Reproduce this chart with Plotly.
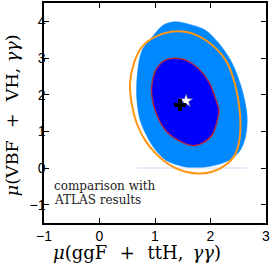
import plotly.graph_objects as go

# 2-sigma (light blue) region contour
outer_x = [1.15, 1.36, 1.54, 1.91, 2.15, 2.39, 2.57, 2.66, 2.63, 2.54, 2.39, 2.15, 1.91, 1.55, 1.31, 1.19, 1.01, 0.86, 0.73, 0.67, 0.69, 0.77, 0.98, 1.15]
outer_y = [3.90, 3.99, 3.95, 3.76, 3.40, 2.86, 2.13, 1.40, 0.85, 0.49, 0.26, 0.10, 0.03, 0.03, 0.13, 0.22, 0.49, 0.85, 1.31, 1.94, 2.67, 3.22, 3.63, 3.90]

# 1-sigma (dark blue) region contour
inner_x = [1.33, 1.54, 1.78, 1.97, 2.09, 2.15, 2.12, 2.03, 1.85, 1.69, 1.49, 1.21, 1.03, 0.94, 0.95, 1.03, 1.16, 1.33]
inner_y = [2.99, 2.95, 2.72, 2.35, 1.90, 1.58, 1.28, 0.90, 0.67, 0.61, 0.70, 0.99, 1.45, 1.99, 2.35, 2.72, 2.92, 2.99]

# ATLAS comparison contour (orange)
atlas_x = [0.55, 0.62, 0.77, 1.01, 1.31, 1.57, 1.91, 2.27, 2.42, 2.51, 2.54, 2.51, 2.42, 2.27, 2.03, 1.80, 1.55, 1.30, 1.01, 0.82, 0.67, 0.58, 0.55]
atlas_y = [2.31, 2.86, 3.31, 3.58, 3.72, 3.71, 3.49, 2.95, 2.40, 1.76, 1.22, 0.67, 0.31, 0.08, -0.10, -0.15, -0.10, 0.05, 0.40, 0.76, 1.22, 1.76, 2.31]

# faint boundary line at mu = 0
base_x = [0.67, 2.66]
base_y = [0.0, 0.0]

# best fit points
best_x = [1.45]
best_y = [1.72]
star_x = [1.56]
star_y = [1.83]

x_ticks = [-1, 0, 1, 2, 3]
y_ticks = [-1, 0, 1, 2, 3, 4]

fig = go.Figure()
fig.add_trace(go.Scatter(x=base_x, y=base_y, mode="lines",
                         line=dict(color="rgb(222,228,250)", width=1.5), hoverinfo="skip"))
fig.add_trace(go.Scatter(x=outer_x, y=outer_y, mode="lines", fill="toself",
                         fillcolor="rgb(0,136,255)", line=dict(color="rgb(0,136,255)", width=0.5,
                         shape="spline", smoothing=0.9)))
fig.add_trace(go.Scatter(x=atlas_x, y=atlas_y, mode="lines",
                         line=dict(color="rgb(255,150,20)", width=2, shape="spline", smoothing=1.0)))
fig.add_trace(go.Scatter(x=inner_x, y=inner_y, mode="lines", fill="toself",
                         fillcolor="rgb(0,0,250)", line=dict(color="rgb(175,40,70)", width=1.5,
                         shape="spline", smoothing=1.0)))
fig.add_trace(go.Scatter(x=star_x, y=star_y, mode="markers",
                         marker=dict(symbol="star", size=10, color="white",
                                     line=dict(color="rgb(90,90,120)", width=0.5))))
fig.add_trace(go.Scatter(x=best_x, y=best_y, mode="markers",
                         marker=dict(symbol="cross", size=10, color="black",
                                     line=dict(color="black", width=0))))

fig.add_annotation(x=-0.86, y=-0.48, xref="x", yref="y", text="comparison with",
                   showarrow=False, xanchor="left", yanchor="middle",
                   font=dict(family="DejaVu Serif", size=12, color="#222"))
fig.add_annotation(x=-0.86, y=-0.87, xref="x", yref="y", text="ATLAS results",
                   showarrow=False, xanchor="left", yanchor="middle",
                   font=dict(family="DejaVu Serif", size=12, color="#222"))

# axis titles
fig.add_annotation(x=0.4167, y=0, xref="paper", yref="paper", yshift=-29,
                   text="<i>μ</i>(ggF\u2002\u2009+\u2002\u2009ttH,\u2002<i>γγ</i>)", showarrow=False,
                   xanchor="center", yanchor="middle",
                   font=dict(family="DejaVu Serif", size=18, color="black"))
fig.add_annotation(x=0, y=0.49, xref="paper", yref="paper", xshift=-32, textangle=-90,
                   text="<i>μ</i>(VBF\u2002\u2009+\u2002\u2009VH, <i>γγ</i>)", showarrow=False,
                   xanchor="center", yanchor="middle",
                   font=dict(family="DejaVu Serif", size=17.5, color="black"))

axis_common = dict(showline=True, linecolor="black", linewidth=1.5, mirror="ticks",
                   ticks="inside", ticklen=5, tickwidth=1, tickcolor="black",
                   showgrid=False, zeroline=False, automargin=False,
                   tickfont=dict(family="Liberation Sans", size=14, color="black"))

fig.update_layout(
    width=273, height=265,
    margin=dict(l=44, r=7, t=3, b=42),
    paper_bgcolor="white", plot_bgcolor="white",
    showlegend=False,
    xaxis=dict(range=[-1, 3], tickvals=x_ticks, ticktext=["−1", "0", "1", "2", "3"],
               ticklabelstandoff=-1, **axis_common),
    yaxis=dict(range=[-1.5, 4.5], tickvals=y_ticks, ticktext=["−1", "0", "1", "2", "3", "4"],
               ticklabelstandoff=-6, **axis_common),
)

fig.write_html("out.html", config={"displayModeBar": False},
               post_script="document.body.style.margin='0';document.body.style.overflow='hidden';")
